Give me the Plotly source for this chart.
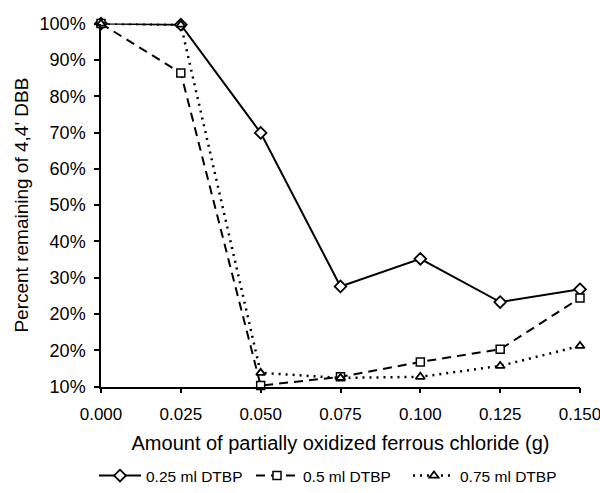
import plotly.graph_objects as go

x_vals = [0.000, 0.025, 0.050, 0.075, 0.100, 0.125, 0.150]
x_ticks = ["0.000", "0.025", "0.050", "0.075", "0.100", "0.125", "0.150"]
# values in axis units (axis spans 0..100, labelled as printed in the original)
s_025 = [100, 99.7, 69.9, 27.6, 35.2, 23.3, 26.8]
s_05 = [100, 86.4, 0.3, 2.7, 6.8, 10.3, 24.4]
s_075 = [100, 99.7, 3.8, 2.4, 2.7, 5.7, 11.2]
y_tickvals = [0, 10, 20, 30, 40, 50, 60, 70, 80, 90, 100]
y_ticktext = ["10%", "20%", "20%", "30%", "40%", "50%", "60%", "70%", "80%", "90%", "100%"]
names = ["0.25 ml DTBP", "0.5 ml DTBP", "0.75 ml DTBP"]

FONT = "Liberation Sans, Arial, sans-serif"
W, H = 600, 493
x0, x1 = 101, 580
y_top, y_bot = 24, 393

fig = go.Figure()
fig.add_trace(go.Scatter(x=x_vals, y=s_025, name=names[0], mode="lines+markers",
                         line=dict(color="black", width=2, dash="solid"),
                         marker=dict(symbol="diamond", size=9, color="white",
                                     line=dict(color="black", width=1.8)),
                         cliponaxis=False))
fig.add_trace(go.Scatter(x=x_vals, y=s_05, name=names[1], mode="lines+markers",
                         line=dict(color="black", width=2, dash="9px,6px"),
                         marker=dict(symbol="square", size=8, color="white",
                                     line=dict(color="black", width=1.5)),
                         cliponaxis=False))
fig.add_trace(go.Scatter(x=x_vals, y=s_075, name=names[2], mode="lines+markers",
                         line=dict(color="black", width=2.5, dash="2px,5px"),
                         marker=dict(symbol="triangle-up", size=8, color="white",
                                     line=dict(color="black", width=1.8)),
                         cliponaxis=False))

xdom = [x0 / W, x1 / W]
ydom = [1 - y_bot / H, 1 - y_top / H]

fig.update_layout(
    width=W, height=H,
    margin=dict(l=0, r=0, t=0, b=0),
    paper_bgcolor="white", plot_bgcolor="white",
    font=dict(family=FONT, size=16, color="black"),
    xaxis=dict(domain=xdom, range=[0, 0.15], tickvals=x_vals, ticktext=x_ticks,
               showgrid=False, zeroline=False, showline=True, linecolor="black",
               linewidth=1.5, ticks="outside", ticklen=5, tickwidth=1.5, tickcolor="black",
               tickfont=dict(size=17), automargin=False, ticklabeloverflow="allow",
               ticklabelstandoff=6,
               title=dict(text="Amount of partially oxidized ferrous chloride (g)",
                          font=dict(size=20), standoff=13)),
    yaxis=dict(domain=ydom, range=[0, 100], tickvals=y_tickvals, ticktext=y_ticktext,
               showgrid=False, zeroline=False, showline=True, linecolor="black",
               linewidth=1.5, ticks="outside", ticklen=5, tickwidth=1.5, tickcolor="black",
               tickfont=dict(size=18), automargin=False, ticklabeloverflow="allow",
               ticklabelstandoff=5,
               title=dict(text="Percent remaining of 4,4' DBB", font=dict(size=19), standoff=6)),
    xaxis2=dict(overlaying="x", range=[0, 0.15], tickvals=x_vals, showticklabels=False,
                showgrid=False, zeroline=False, ticks="inside", ticklen=5, tickwidth=1.5,
                tickcolor="black", side="bottom", anchor="y"),
    yaxis2=dict(overlaying="y", range=[0, 100], tickvals=y_tickvals, showticklabels=False,
                showgrid=False, zeroline=False, ticks="inside", ticklen=5, tickwidth=1.5,
                tickcolor="black", side="left", anchor="x"),
    legend=dict(orientation="h", x=94 / W, xanchor="left", y=1 - 484 / H, yanchor="middle",
                font=dict(size=15.5), itemwidth=42, entrywidth=100, tracegroupgap=0,
                bgcolor="rgba(0,0,0,0)"),
    showlegend=True,
)

fig.write_html("out.html")
